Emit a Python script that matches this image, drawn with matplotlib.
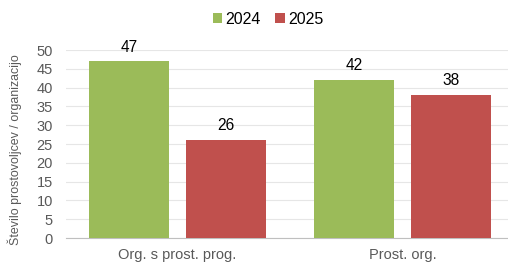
import matplotlib
matplotlib.use("Agg")
import matplotlib.pyplot as plt
import numpy as np

plt.rcParams['font.family'] = ['Liberation Sans', 'DejaVu Sans']

categories = ["Org. s prost. prog.", "Prost. org."]
series_names = ["2024", "2025"]
values_2024 = [47, 42]
values_2025 = [26, 38]
yticks = [0, 5, 10, 15, 20, 25, 30, 35, 40, 45, 50]
ylabel = "Število prostovoljcev / organizacijo"

colors = ["#9BBB59", "#C0504D"]

fig = plt.figure(figsize=(5.08, 2.62), dpi=100)
ax = fig.add_axes([66/508, 24/262, (508-66)/508, (238-50)/262])

x = np.arange(len(categories))
w = 0.356
off = 0.216
b1 = ax.bar(x - off, values_2024, w, color=colors[0], label=series_names[0], zorder=3)
b2 = ax.bar(x + off, values_2025, w, color=colors[1], label=series_names[1], zorder=3)
for bars in (b1, b2):
    for r in bars:
        ax.text(r.get_x() + r.get_width()/2, r.get_height() + 1.8, f"{int(r.get_height())}",
                ha='center', va='bottom', fontsize=11.2, color='#000000', clip_on=False)

ax.set_ylim(0, 50)
ax.set_xlim(-0.496, 1.469)
ax.set_yticks(yticks)
ax.set_xticks(x)
ax.set_xticklabels(categories)
ax.grid(axis='y', color='#E6E6E6', linewidth=0.8, zorder=0)
for s in ['top', 'right', 'left']:
    ax.spines[s].set_visible(False)
ax.spines['bottom'].set_color('#BFBFBF')
ax.spines['bottom'].set_linewidth(0.8)
ax.tick_params(axis='both', length=0, colors='#595959', labelsize=10.5)
ax.tick_params(axis='x', pad=7)
ax.tick_params(axis='y', pad=9.4)
ax.set_ylabel(ylabel, fontsize=8.9, color='#595959')
ax.yaxis.set_label_coords(-0.100, 0.471)

fig.legend(handles=[b1, b2], labels=series_names, loc='center', bbox_to_anchor=(268/508, 1 - 19/262),
           ncol=2, frameon=False, fontsize=11.5, handlelength=0.6, handleheight=0.6,
           handletextpad=0.2, columnspacing=0.9)

fig.savefig("out.png", dpi=100)
